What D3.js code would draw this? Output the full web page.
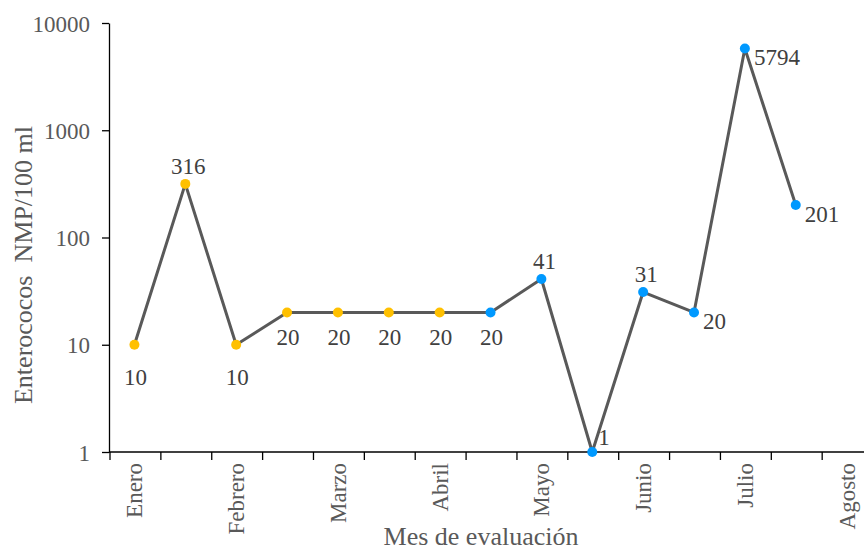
<!DOCTYPE html>
<html>
<head>
<meta charset="utf-8">
<script src="https://cdn.jsdelivr.net/npm/d3@7"></script>
<style>
  body { margin: 0; background: #fff; }
  svg { display: block; }
</style>
</head>
<body>
<svg id="chart" width="864" height="550"></svg>
<script>
// Month labels on the category axis (odd slots are unlabeled half-month samples)
const categories = ["Enero", "", "Febrero", "", "Marzo", "", "Abril", "", "Mayo", "", "Junio", "", "Julio", "", "Agosto"];
// Enterococos NMP/100 ml per sampling
const values = [10, 316, 10, 20, 20, 20, 20, 20, 41, 1, 31, 20, 5794, 201];
// Sampling group per point: first group yellow, second group blue
const groups = ["a", "a", "a", "a", "a", "a", "a", "b", "b", "b", "b", "b", "b", "b"];
const yTicks = [1, 10, 100, 1000, 10000];
// Where each value label sits relative to its point
const labelPlacement = ["below", "above", "below", "below", "below", "below", "below", "below", "above", "upright", "above", "right", "right", "right"];

const FONT = "'Liberation Serif', 'Times New Roman', Tinos, 'DejaVu Serif', serif";

const svg = d3.select("#chart").style("font-family", FONT);
const margin = { left: 110, top: 23, bottom: 452 };

const x = d3.scaleBand()
  .domain(d3.range(categories.length))
  .range([margin.left, margin.left + 50.87 * categories.length])
  .paddingInner(0).paddingOuter(0);

const y = d3.scaleLog()
  .domain([1, 10000])
  .range([margin.bottom, margin.top]);

const color = d3.scaleOrdinal().domain(["a", "b"]).range(["#FFC000", "#0099FF"]);

// Y axis
const yAxis = svg.append("g")
  .attr("transform", `translate(${margin.left - 1},0)`)
  .call(d3.axisLeft(y).tickValues(yTicks).tickFormat(d3.format("d")).tickSize(7).tickSizeOuter(0));
yAxis.attr("font-family", null).attr("font-size", null);
yAxis.select(".domain").attr("stroke", "#000").attr("stroke-width", 1.3);
yAxis.selectAll(".tick line").attr("stroke", "#000").attr("stroke-width", 1.3);
yAxis.selectAll(".tick text")
  .attr("x", -19).attr("dy", "0.35em")
  .attr("fill", "#595959")
  .style("font-family", FONT).style("font-size", "23px");

// X axis: ticks between categories
const xAxisG = svg.append("g").attr("transform", `translate(0,${margin.bottom})`);
xAxisG.append("line")
  .attr("x1", margin.left - 1).attr("x2", x.range()[1])
  .attr("stroke", "#000").attr("stroke-width", 1.3);
xAxisG.selectAll("line.tick")
  .data(d3.range(categories.length + 1))
  .join("line")
  .attr("class", "tick")
  .attr("x1", i => i < categories.length ? x(i) : x.range()[1])
  .attr("x2", i => i < categories.length ? x(i) : x.range()[1])
  .attr("y1", 0).attr("y2", 8)
  .attr("stroke", "#000").attr("stroke-width", 1.3);
xAxisG.selectAll("text.cat")
  .data(categories.map((c, i) => ({ c, i })).filter(d => d.c))
  .join("text")
  .attr("class", "cat")
  .attr("transform", d => `translate(${x(d.i) + x.bandwidth() / 2 + 7},11) rotate(-90)`)
  .attr("text-anchor", "end")
  .attr("fill", "#595959")
  .style("font-family", FONT).style("font-size", "23px")
  .text(d => d.c);

// Axis titles
svg.append("text")
  .attr("x", 481).attr("y", 545)
  .attr("text-anchor", "middle")
  .attr("fill", "#595959")
  .style("font-family", FONT).style("font-size", "26px")
  .text("Mes de evaluación");
svg.append("text")
  .attr("transform", "translate(32,265) rotate(-90)")
  .attr("text-anchor", "middle")
  .attr("fill", "#595959")
  .style("font-family", FONT).style("font-size", "26px")
  .style("white-space", "pre")
  .text("Enterococos  NMP/100 ml");

// Series line
const pts = values.map((v, i) => ({ v, i, g: groups[i], pos: labelPlacement[i] }));
const cx = d => x(d.i) + x.bandwidth() / 2 - 1;
const line = d3.line().x(cx).y(d => y(d.v));
svg.append("path")
  .datum(pts)
  .attr("d", line)
  .attr("fill", "none")
  .attr("stroke", "#595959")
  .attr("stroke-width", 3)
  .attr("stroke-linejoin", "round");

// Markers
svg.selectAll("circle.pt")
  .data(pts)
  .join("circle")
  .attr("class", "pt")
  .attr("cx", cx)
  .attr("cy", d => y(d.v))
  .attr("r", 5)
  .attr("fill", d => color(d.g));

// Value labels
svg.selectAll("text.val")
  .data(pts)
  .join("text")
  .attr("class", "val")
  .attr("fill", "#404040")
  .style("font-family", FONT).style("font-size", "23px")
  .attr("text-anchor", d => (d.pos === "right" || d.pos === "upright") ? "start" : "middle")
  .attr("x", d => {
    if (d.pos === "right") return cx(d) + 9;
    if (d.pos === "upright") return cx(d) + 6;
    if (d.pos === "above") return cx(d) + 3;
    return cx(d) + 1;
  })
  .attr("y", d => {
    const py = y(d.v);
    if (d.pos === "above") return py - 10;
    if (d.pos === "below") return py + (d.v === 10 ? 40 : 33);
    if (d.pos === "upright") return py - 7;
    return py + 17;
  })
  .text(d => d.v);
</script>
</body>
</html>
